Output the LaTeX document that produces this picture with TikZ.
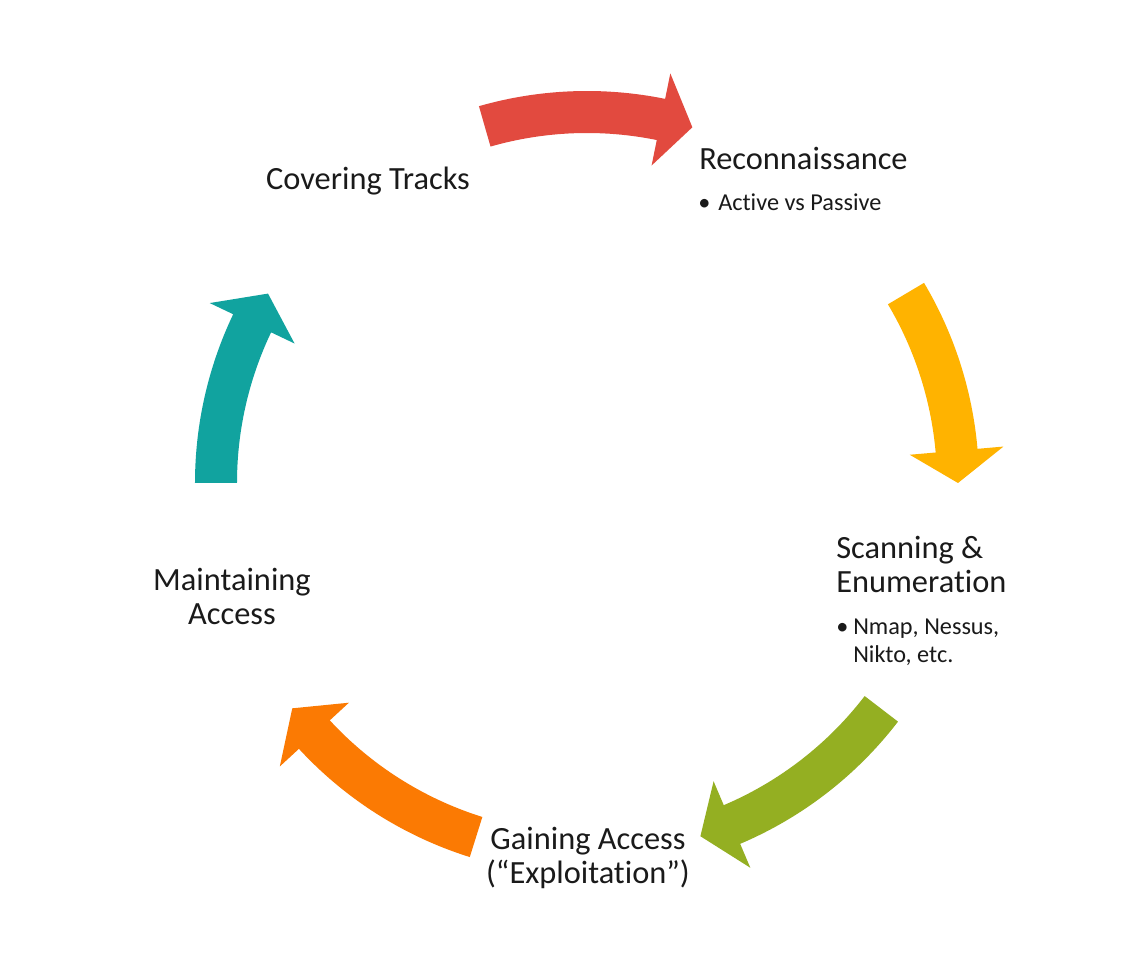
\documentclass[tikz,border=0pt]{standalone}
\usepackage{fontspec}
\setmainfont[Ligatures=NoCommon]{Carlito}
\definecolor{cred}{HTML}{E24A3F}
\definecolor{cyellow}{HTML}{FFB300}
\definecolor{cgreen}{HTML}{94AF22}
\definecolor{corange}{HTML}{FB7A03}
\definecolor{cteal}{HTML}{11A39F}
\definecolor{ctext}{HTML}{1A1A1A}
\newcommand{\cyclearrow}[4]{%
  \fill[#1] (#2:294pt) arc[start angle=#2, end angle=#3, radius=294pt]
    -- (#3:313.5pt) -- (#4:278.25pt) -- (#3:243pt) -- (#3:262.5pt)
    arc[start angle=#3, end angle=#2, radius=262.5pt] -- cycle;}
\begin{document}
\begin{tikzpicture}[x=0.75pt,y=0.75pt,
  mainlbl/.style={inner sep=0pt, text=ctext, font=\fontsize{24.3pt}{25.5pt}\selectfont},
  sublbl/.style={inner sep=0pt, text=ctext, font=\fontsize{18.2pt}{21pt}\selectfont}]
\useasboundingbox (-587,-487) rectangle (554,483);
\fill[white] (-587,-487) rectangle (554,483);
% arrows
\cyclearrow{cred}{106}{78.5}{73.5}
\cyclearrow{cyellow}{30.7}{5}{0}
\cyclearrow{cgreen}{-37.5}{-67}{-72.2}
\cyclearrow{corange}{-107.4}{-137.3}{-142.6}
\cyclearrow{cteal}{180}{154.5}{149.3}
% labels
\node[mainlbl, anchor=base] (cover) at (-219,293) {Covering Tracks};
\node[mainlbl, anchor=base west] (recon) at (112,313) {Reconnaissance};
\node[sublbl, anchor=base west] (b1) at (111,272) {\textbullet};
\node[sublbl, anchor=base west] (active) at (131,272) {Active vs Passive};
\node[mainlbl, anchor=base west, align=left] (scan) at (249,-109) {Scanning \&\\Enumeration};
\node[sublbl, anchor=base west] (b2) at (249,-151) {\textbullet};
\node[sublbl, anchor=base west, align=left] (tools) at (266,-179) {Nmap, Nessus,\\Nikto, etc.};
\node[mainlbl, anchor=base, align=center] (gain) at (1,-400) {Gaining Access\\(“Exploitation”)};
\node[mainlbl, anchor=base, align=center] (maint) at (-355,-141) {Maintaining\\Access};
\end{tikzpicture}
\end{document}
